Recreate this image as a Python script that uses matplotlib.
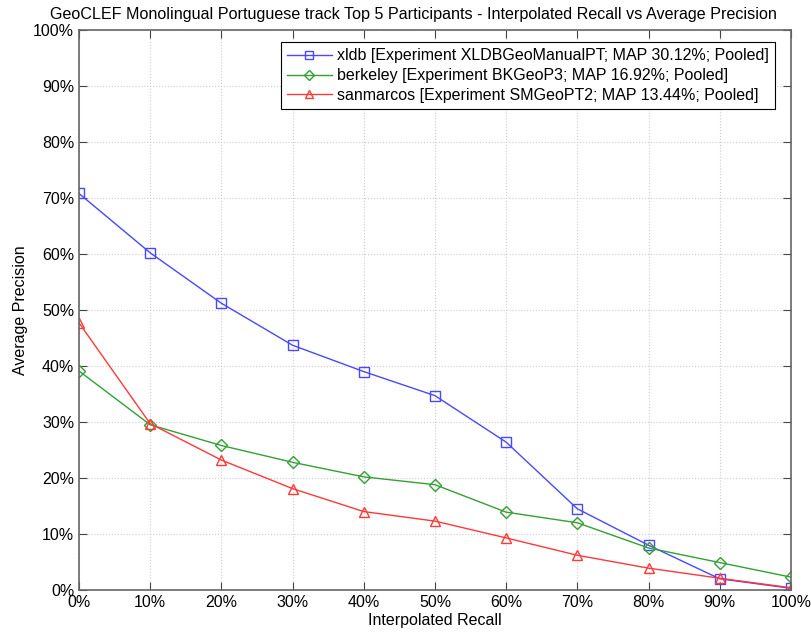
import matplotlib.pyplot as plt
import numpy as np

plt.rcParams['font.family'] = ['Liberation Sans', 'DejaVu Sans']

recall = [0, 10, 20, 30, 40, 50, 60, 70, 80, 90, 100]
xldb = [70.8, 60.2, 51.2, 43.7, 39.0, 34.7, 26.4, 14.5, 8.0, 2.0, 0.3]
berkeley = [39.1, 29.5, 25.8, 22.8, 20.2, 18.8, 13.9, 12.0, 7.5, 4.9, 2.3]
sanmarcos = [47.7, 29.7, 23.2, 18.1, 14.0, 12.3, 9.3, 6.2, 3.9, 2.1, 0.4]

labels = ['xldb [Experiment XLDBGeoManualPT; MAP 30.12%; Pooled]',
          'berkeley [Experiment BKGeoP3; MAP 16.92%; Pooled]',
          'sanmarcos [Experiment SMGeoPT2; MAP 13.44%; Pooled]']
ticks = [f'{v}%' for v in range(0, 101, 10)]

fig = plt.figure(figsize=(8.12, 6.37), dpi=100)
ax = fig.add_axes([0.0973, 0.0738, 0.8767, 0.8792])

ax.plot(recall, xldb, color='#4848ff', marker='s', mfc='none', ms=7, lw=1, label=labels[0])
ax.plot(recall, berkeley, color='#33a033', marker='D', mfc='none', ms=6, lw=1, label=labels[1])
ax.plot(recall, sanmarcos, color='#ff3838', marker='^', mfc='none', ms=7, lw=1, label=labels[2])

ax.set_xlim(0, 100)
ax.set_ylim(0, 100)
ax.set_xticks(range(0, 101, 10))
ax.set_yticks(range(0, 101, 10))
ax.set_xticklabels(ticks, fontsize=11.5)
ax.set_yticklabels(ticks, fontsize=11.5)
ax.tick_params(direction='in', top=True, right=True, length=6, color='#444444')
ax.grid(True, linestyle=':', color='#cccccc', lw=0.8)
for s in ax.spines.values():
    s.set_color('#666666')
    s.set_linewidth(1.2)

ax.set_xlabel('Interpolated Recall', fontsize=11.5, labelpad=2)
ax.set_ylabel('Average Precision', fontsize=11.5)
ax.set_title('GeoCLEF Monolingual Portuguese track Top 5 Participants - Interpolated Recall vs Average Precision',
             fontsize=11.6, pad=8, x=0.47)

leg = ax.legend(loc='upper right', bbox_to_anchor=(0.9775, 0.9786), borderaxespad=0,
                fontsize=11.5, fancybox=False, framealpha=1, edgecolor='black',
                handlelength=2.8, handletextpad=0.3, labelspacing=0.3, borderpad=0.4,
                markerscale=0.8)
leg.get_frame().set_linewidth(0.8)

fig.savefig('out.png', dpi=100)
